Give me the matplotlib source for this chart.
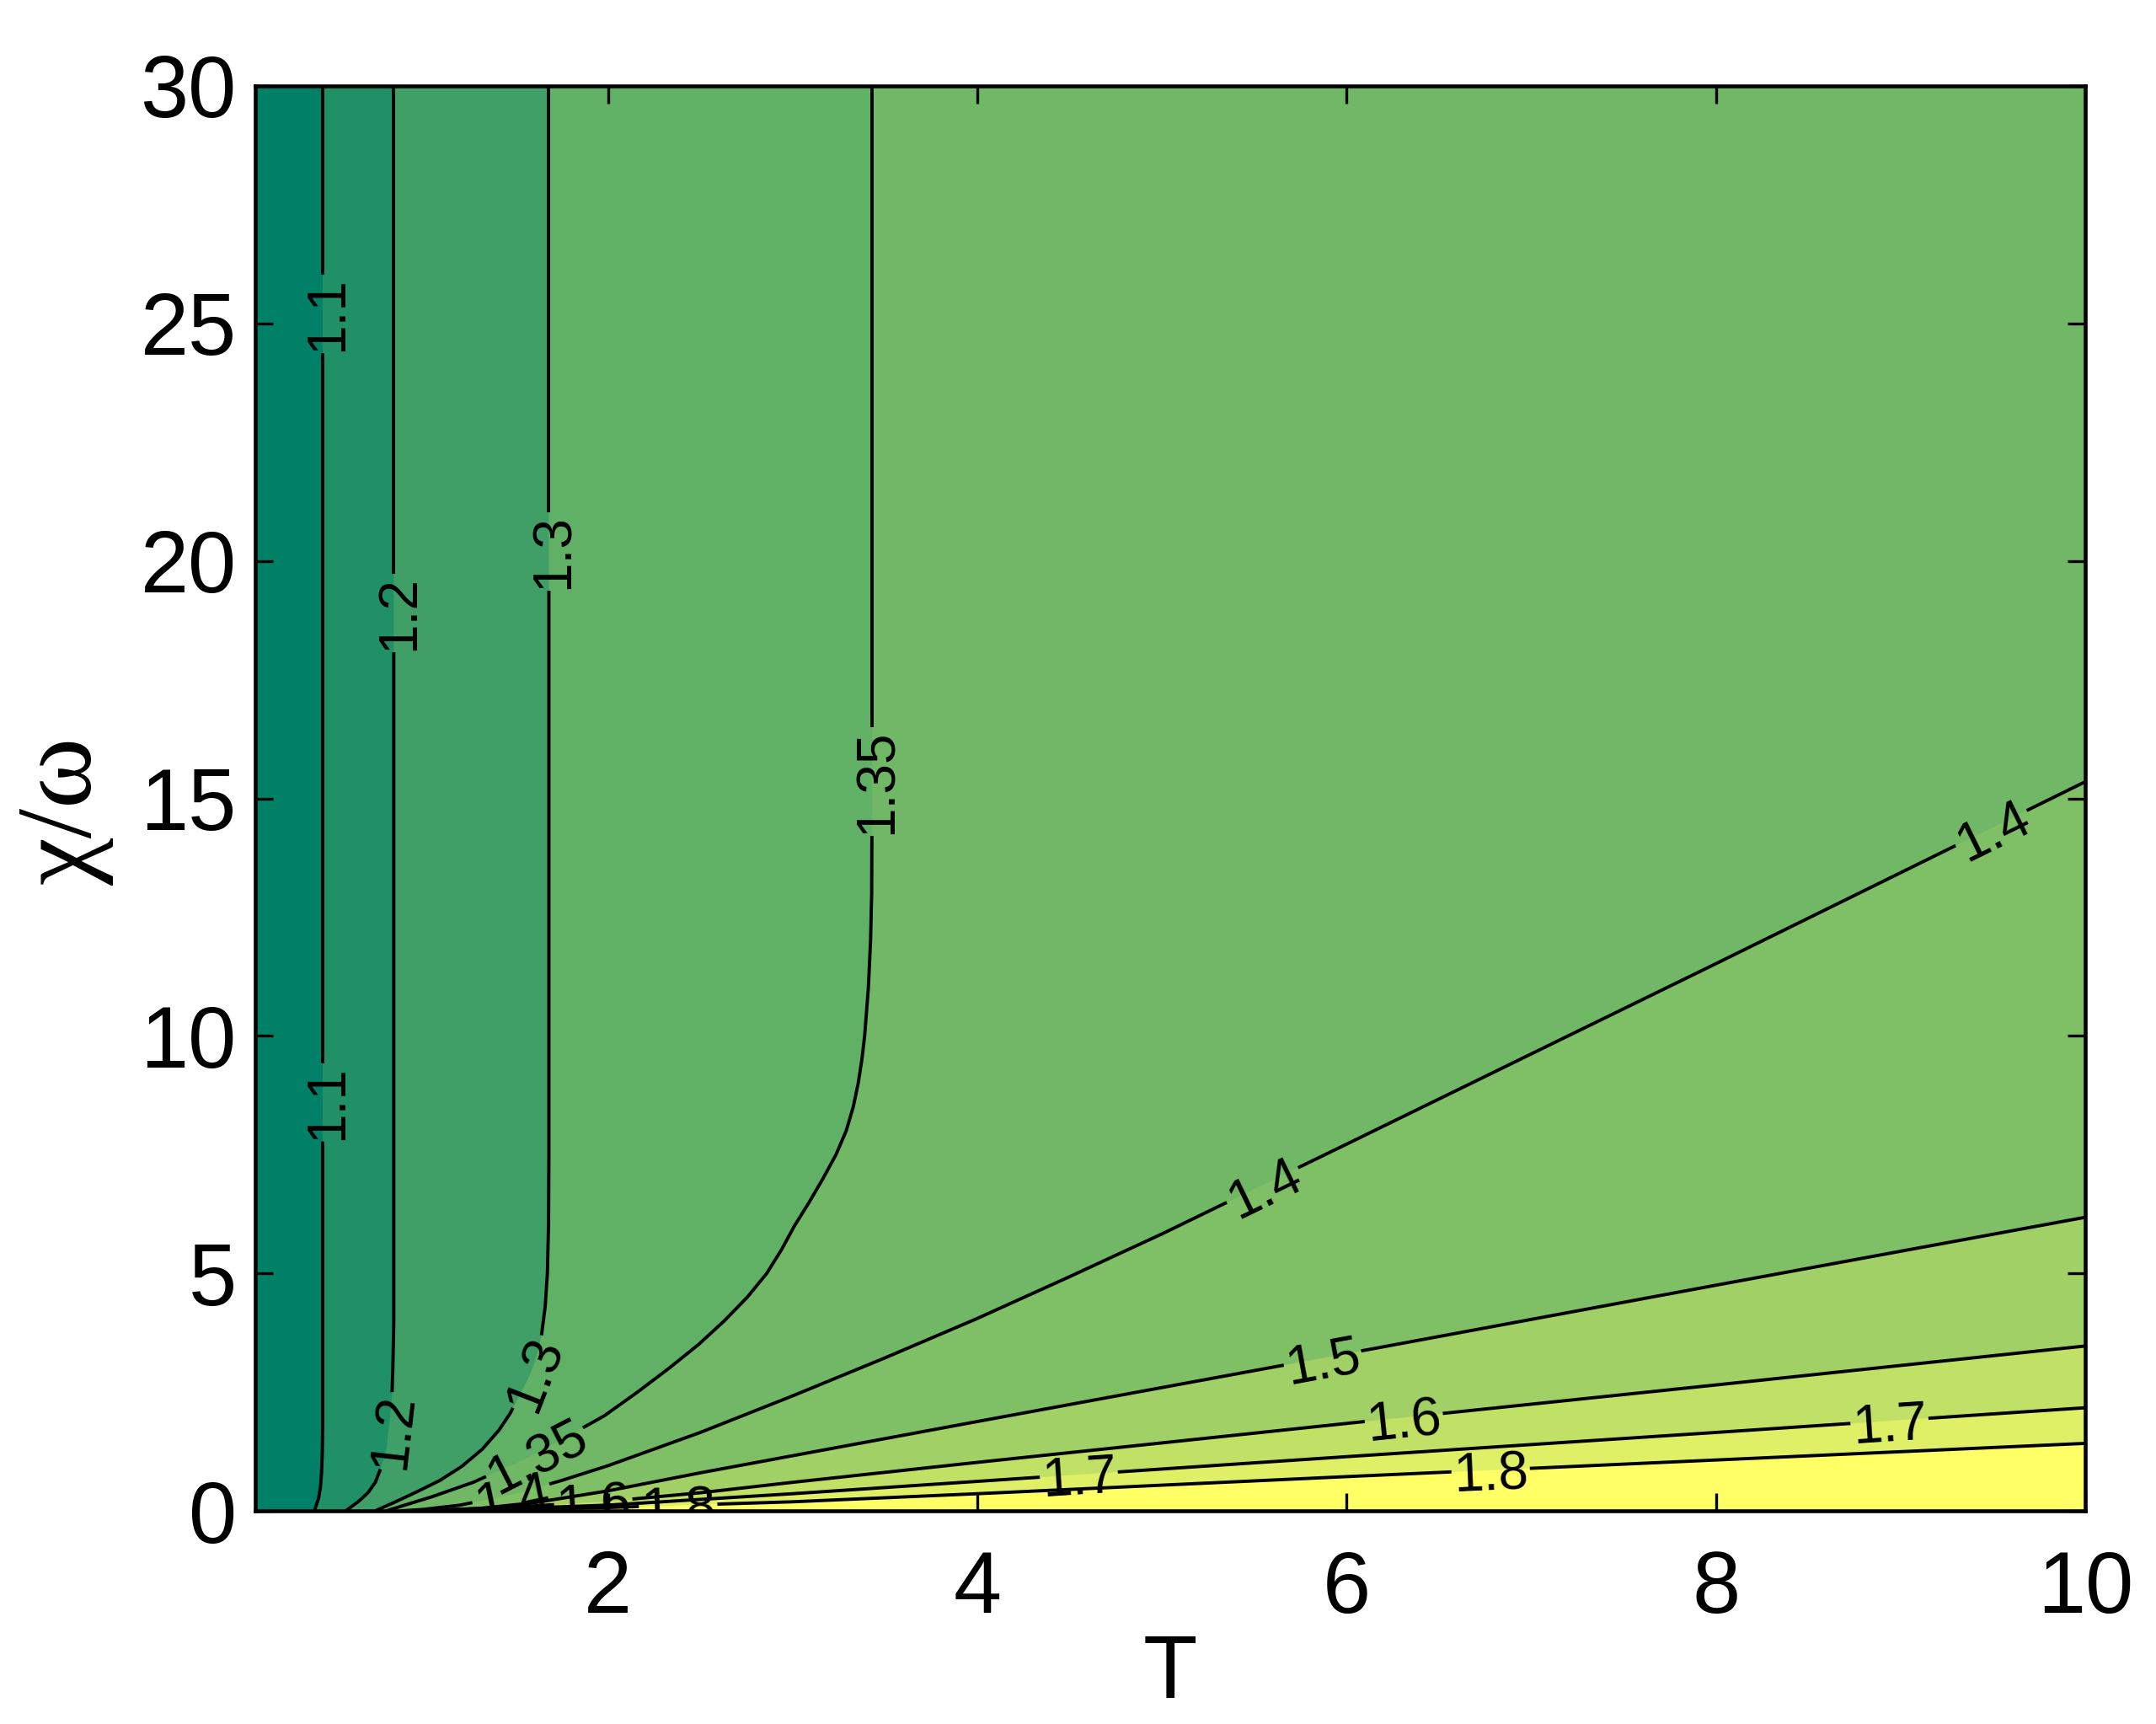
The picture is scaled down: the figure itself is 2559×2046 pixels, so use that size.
import matplotlib
matplotlib.use("Agg")
import matplotlib.pyplot as plt
import numpy as np
from matplotlib.textpath import TextPath
from matplotlib.font_manager import FontProperties

# contour levels, colours come from summer colormap with clim 1.0 .. 1.8
levels = [1.1, 1.2, 1.3, 1.35, 1.4, 1.5, 1.6, 1.7, 1.8]
clim = (1.0, 1.8)

# contour lines (T, chi/omega)
# the first four run from the top edge down to chi=0
c110_T = [0.455, 0.455, 0.453, 0.449, 0.443, 0.432, 0.41]
c110_y = [30, 1.8, 1.2, 0.8, 0.5, 0.25, 0.0]
c120_T = [0.84, 0.84, 0.835, 0.83, 0.815, 0.80, 0.77, 0.74, 0.70, 0.65, 0.58]
c120_y = [30, 4.0, 3.0, 2.4, 1.8, 1.3, 0.9, 0.6, 0.38, 0.2, 0.0]
c130_T = [1.68, 1.68, 1.678, 1.672, 1.66, 1.64, 1.61, 1.57, 1.53, 1.47, 1.41, 1.32, 1.21, 1.09, 0.97, 0.85, 0.74]
c130_y = [30, 7.5, 6.0, 5.0, 4.3, 3.7, 3.2, 2.8, 2.5, 2.05, 1.7, 1.3, 0.94, 0.64, 0.41, 0.19, 0.0]
c135_T = [3.43, 3.43, 3.428, 3.422, 3.41, 3.39, 3.375, 3.355, 3.328, 3.29, 3.235, 3.165, 3.09, 3.01,
          2.94, 2.86, 2.755, 2.63, 2.49, 2.33, 2.16, 1.98, 1.75, 1.50, 1.27, 1.05, 0.90, 0.80]
c135_y = [30, 15, 13, 12, 11, 10, 9.5, 9, 8.5, 8, 7.5, 7, 6.5, 6,
          5.5, 5.0, 4.5, 4.0, 3.5, 3.0, 2.5, 2.0, 1.5, 1.0, 0.6, 0.3, 0.12, 0.0]
# the rest run from chi=0 out to the right edge
c140_T = [0.88, 1.0, 1.2, 1.5, 1.75, 2.0, 2.5, 3.0, 3.5, 4.0, 4.5, 5.0, 6.0, 8.0, 10.0]
c140_y = [0.0, 0.03, 0.12, 0.36, 0.64, 0.95, 1.65, 2.42, 3.22, 4.05, 4.93, 5.83, 7.72, 11.52, 15.35]
c150_T = [0.95, 1.3, 1.6, 2.0, 2.5, 3.0, 4.0, 6.0, 8.0, 10.0]
c150_y = [0.0, 0.05, 0.17, 0.42, 0.8, 1.16, 1.88, 3.31, 4.75, 6.18]
c160_T = [1.0, 1.5, 2.0, 2.5, 3.0, 4.0, 6.0, 8.0, 10.0]
c160_y = [0.0, 0.08, 0.2, 0.38, 0.6, 1.02, 1.84, 2.65, 3.47]
c170_T = [1.05, 1.5, 2.0, 3.0, 4.0, 6.0, 8.0, 10.0]
c170_y = [0.0, 0.05, 0.12, 0.36, 0.62, 1.14, 1.65, 2.17]
c180_T = [1.1, 1.5, 2.0, 3.0, 4.0, 6.0, 8.0, 10.0]
c180_y = [0.0, 0.03, 0.07, 0.19, 0.36, 0.72, 1.07, 1.42]

curves_T = [c110_T, c120_T, c130_T, c135_T, c140_T, c150_T, c160_T, c170_T, c180_T]
curves_y = [c110_y, c120_y, c130_y, c135_y, c140_y, c150_y, c160_y, c170_y, c180_y]

# inline labels: (level index, text, approx T, approx chi)
lab_idx = [0, 0, 1, 1, 2, 2, 3, 3, 4, 4, 4, 5, 6, 6, 7, 7, 8, 8]
lab_txt = ["1.1", "1.1", "1.2", "1.2", "1.3", "1.3", "1.35", "1.35", "1.4", "1.4", "1.4",
           "1.5", "1.6", "1.6", "1.7", "1.7", "1.8", "1.8"]
lab_T = [0.455, 0.455, 0.84, 0.81, 1.68, 1.57, 3.43, 1.60, 5.54, 9.5, 1.47,
         5.87, 6.31, 1.92, 4.55, 8.94, 6.78, 2.38]
lab_y = [25.2, 8.6, 18.9, 1.68, 20.2, 2.92, 15.35, 1.25, 6.89, 14.3, 0.45,
         3.2, 1.95, 0.2, 0.75, 1.87, 0.85, 0.1]

xticks = [2, 4, 6, 8, 10]
yticks = [0, 5, 10, 15, 20, 25, 30]
xlim = (0.09, 10)
ylim = (0, 30)

dpi = 100
fig = plt.figure(figsize=(25.59, 20.46), dpi=dpi)
ax = fig.add_axes([303 / 2559, 1 - 1793 / 2046, 2172 / 2559, 1691 / 2046])
ax.set_xlim(xlim)
ax.set_ylim(ylim)

cmap = plt.get_cmap("summer")
def lev_color(v):
    return cmap((v - clim[0]) / (clim[1] - clim[0]))

ax.set_facecolor(lev_color(clim[0]))

# filled bands: paint each "above level" region over the previous one
for i, lev in enumerate(levels):
    T = list(curves_T[i])
    y = list(curves_y[i])
    if i < 4:
        T += [xlim[1], xlim[1]]
        y += [0, ylim[1]]
    else:
        T += [xlim[1]]
        y += [0]
    ax.fill(T, y, color=lev_color(lev), lw=0, zorder=1)

lab_fs = 46
font = "Liberation Sans"
fp = FontProperties(family=font)


def nearest_on_path(P, c):
    seg = np.diff(P, axis=0)
    L = np.hypot(seg[:, 0], seg[:, 1])
    s = np.concatenate([[0], np.cumsum(L)])
    best = None
    for k in range(len(seg)):
        if L[k] == 0:
            continue
        t = np.clip(np.dot(c - P[k], seg[k]) / L[k] ** 2, 0, 1)
        q = P[k] + t * seg[k]
        d = np.hypot(*(q - c))
        if best is None or d < best[0]:
            best = (d, q, s[k] + t * L[k], np.degrees(np.arctan2(seg[k][1], seg[k][0])))
    return best[1], best[2], best[3], s


tr = ax.transData
inv = tr.inverted()
gaps = [[] for _ in levels]
for j in range(len(lab_txt)):
    i = lab_idx[j]
    P = tr.transform(np.column_stack([curves_T[i], curves_y[i]]))
    c = tr.transform((lab_T[j], lab_y[j]))
    q, s0, ang, _ = nearest_on_path(P, c)
    if ang > 90:
        ang -= 180
    if ang <= -90:
        ang += 180
    w = TextPath((0, 0), lab_txt[j], size=lab_fs, prop=fp).get_extents().width * dpi / 72
    r = w / 2 + 6
    gaps[i].append((s0 - r, s0 + r))
    qd = inv.transform(q)
    ax.text(qd[0], qd[1], lab_txt[j], fontsize=lab_fs, family=font, rotation=ang,
            rotation_mode="anchor", ha="center", va="center_baseline", zorder=4, clip_on=True)

# contour lines, broken where labels sit
for i in range(len(levels)):
    P = tr.transform(np.column_stack([curves_T[i], curves_y[i]]))
    seg = np.diff(P, axis=0)
    s = np.concatenate([[0], np.cumsum(np.hypot(seg[:, 0], seg[:, 1]))])
    keep = [(0.0, s[-1])]
    for a, b in sorted(gaps[i]):
        new = []
        for lo, hi in keep:
            if b <= lo or a >= hi:
                new.append((lo, hi))
                continue
            if a > lo:
                new.append((lo, a))
            if b < hi:
                new.append((b, hi))
        keep = new
    for lo, hi in keep:
        ss = np.concatenate([[lo], s[(s > lo) & (s < hi)], [hi]])
        px = np.interp(ss, s, P[:, 0])
        py = np.interp(ss, s, P[:, 1])
        d = inv.transform(np.column_stack([px, py]))
        ax.plot(d[:, 0], d[:, 1], color="black", lw=2.8, zorder=3,
                solid_capstyle="butt", solid_joinstyle="round")

ax.set_xticks(xticks)
ax.set_yticks(yticks)
ax.tick_params(direction="in", length=15, width=2.4, top=True, right=True,
               labelsize=74)
ax.tick_params(axis="x", pad=33)
ax.tick_params(axis="y", pad=16)
for lab in ax.get_xticklabels() + ax.get_yticklabels():
    lab.set_family(font)
for sp in ax.spines.values():
    sp.set_linewidth(3.3)
    sp.set_zorder(5)

ax.text(0.5, -0.115, "T", transform=ax.transAxes, ha="center", va="center",
        fontsize=76, family=font)
ax.text(-0.104, 0.491, "χ/ω", transform=ax.transAxes, ha="center", va="center",
        rotation=90, fontsize=92, family="Liberation Serif")

fig.savefig("out.png", dpi=dpi)
